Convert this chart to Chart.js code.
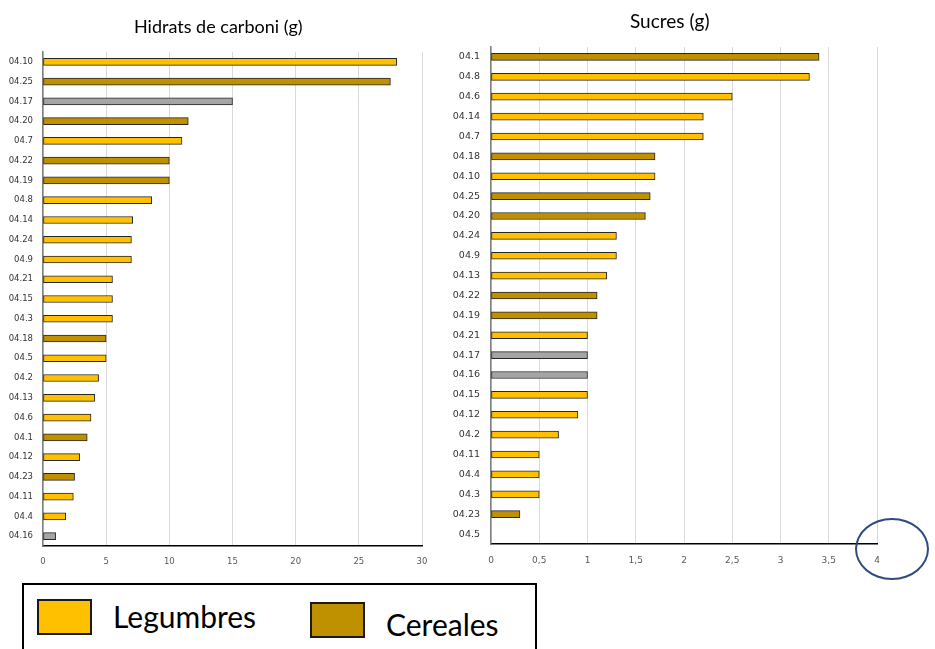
<!DOCTYPE html>
<html>
<head>
<meta charset="utf-8">
<script src="https://cdn.jsdelivr.net/npm/chart.js@4.4.1/dist/chart.umd.min.js"></script>
<style>
  html, body { margin: 0; padding: 0; background: #fff; }
  body { width: 935px; height: 649px; position: relative; overflow: hidden; font-family: "Lato", "Liberation Sans", sans-serif; }
  canvas { position: absolute; top: 0; }
  #hcChart { left: 0; }
  #sugarChart { left: 440px; }
  .title { position: absolute; font-size: 18px; color: #000; white-space: nowrap; }
  #hcTitle { left: 134px; top: 15px; }
  #sugarTitle { left: 630px; top: 9px; font-size: 19px; }
  #legend { position: absolute; left: 22px; top: 583px; width: 511px; height: 90px; border: 2px solid #000; }
  .swatch { position: absolute; width: 55px; height: 36px; border: 2px solid #1a1a1a; box-sizing: border-box; }
  .legText { position: absolute; font-size: 30px; color: #000; white-space: nowrap; }
  #ring { position: absolute; left: 855px; top: 518px; width: 70px; height: 58px; border: 2px solid #2F4B7F; border-radius: 50%; }
</style>
</head>
<body>
<canvas id="hcChart" width="440" height="570"></canvas>
<canvas id="sugarChart" width="495" height="570"></canvas>
<div class="title" id="hcTitle">Hidrats de carboni (g)</div>
<div class="title" id="sugarTitle">Sucres (g)</div>
<div id="legend">
  <div class="swatch" style="left:13px; top:14px; background:#FFC000;"></div>
  <div class="legText" style="left:89px; top:13px;">Legumbres</div>
  <div class="swatch" style="left:286px; top:17px; background:#BF9000;"></div>
  <div class="legText" style="left:362px; top:21px;">Cereales</div>
</div>
<div id="ring"></div>
<script>
// leg = legumbres, cer = cereales, alt = altres
const groupColors = { leg: '#FFC000', cer: '#BF9000', alt: '#A5A5A5' };

// Hidrats de carboni (g)
const hcLabels = ['04.10','04.25','04.17','04.20','04.7','04.22','04.19','04.8','04.14','04.24','04.9','04.21','04.15',
                  '04.3','04.18','04.5','04.2','04.13','04.6','04.1','04.12','04.23','04.11','04.4','04.16'];
const hcValues = [28, 27.5, 15, 11.5, 11, 10, 10, 8.6, 7.1, 7, 7, 5.5, 5.5,
                  5.5, 5, 5, 4.4, 4.1, 3.8, 3.5, 2.9, 2.5, 2.4, 1.8, 1];
const hcGroups = ['leg','cer','alt','cer','leg','cer','cer','leg','leg','leg','leg','leg','leg',
                  'leg','cer','leg','leg','leg','leg','cer','leg','cer','leg','leg','alt'];
const hcTicks = [0, 5, 10, 15, 20, 25, 30];

// Sucres (g)
const sugarLabels = ['04.1','04.8','04.6','04.14','04.7','04.18','04.10','04.25','04.20','04.24','04.9','04.13','04.22',
                     '04.19','04.21','04.17','04.16','04.15','04.12','04.2','04.11','04.4','04.3','04.23','04.5'];
const sugarValues = [3.4, 3.3, 2.5, 2.2, 2.2, 1.7, 1.7, 1.65, 1.6, 1.3, 1.3, 1.2, 1.1,
                     1.1, 1, 1, 1, 1, 0.9, 0.7, 0.5, 0.5, 0.5, 0.3, 0];
const sugarGroups = ['cer','leg','leg','leg','leg','cer','leg','cer','cer','leg','leg','leg','cer',
                     'cer','leg','alt','alt','leg','leg','leg','leg','leg','leg','cer','leg'];
const sugarTicks = [0, 0.5, 1, 1.5, 2, 2.5, 3, 3.5, 4];

function makeChart(canvasId, labels, values, groups, ticks, opts) {
    const data = {
        labels: labels,
        datasets: [{
            data: values,
            backgroundColor: groups.map(g => groupColors[g]),
            borderColor: '#262626',
            borderWidth: 1,
            borderSkipped: false,
            barThickness: 7
        }]
    };
    const config = {
        type: 'bar',
        data: data,
        options: {
            indexAxis: 'y',
            responsive: false,
            animation: false,
            layout: { padding: { top: opts.top, right: opts.right, left: 0, bottom: 0 } },
            plugins: { legend: { display: false }, tooltip: { enabled: false } },
            scales: {
                x: {
                    min: 0,
                    max: ticks[ticks.length - 1],
                    afterBuildTicks: axis => { axis.ticks = ticks.map(v => ({ value: v })); },
                    afterFit: axis => { axis.height = opts.xHeight; },
                    grid: { color: '#D9D9D9', lineWidth: 1, drawTicks: false },
                    border: { display: true, color: '#000', width: 1.5 },
                    ticks: {
                        padding: 11,
                        color: '#595959',
                        font: { family: 'DejaVu Sans', size: opts.tickSize },
                        callback: v => String(v).replace('.', ',')
                    }
                },
                y: {
                    afterFit: axis => { axis.width = opts.yWidth; },
                    grid: { display: false, drawTicks: false },
                    border: { display: true, color: '#7F7F7F', width: 1.5 },
                    ticks: {
                        padding: opts.labelPad,
                        color: '#333333',
                        autoSkip: false,
                        font: { family: 'DejaVu Sans', size: opts.labelSize }
                    }
                }
            }
        }
    };
    return new Chart(document.getElementById(canvasId), config);
}

makeChart('hcChart', hcLabels, hcValues, hcGroups, hcTicks,
    { top: 52, right: 18, xHeight: 24, yWidth: 43, tickSize: 8.5, labelSize: 8.5, labelPad: 10 });
makeChart('sugarChart', sugarLabels, sugarValues, sugarGroups, sugarTicks,
    { top: 47, right: 58, xHeight: 26, yWidth: 51, tickSize: 9, labelSize: 9.5, labelPad: 11 });
</script>
</body>
</html>
